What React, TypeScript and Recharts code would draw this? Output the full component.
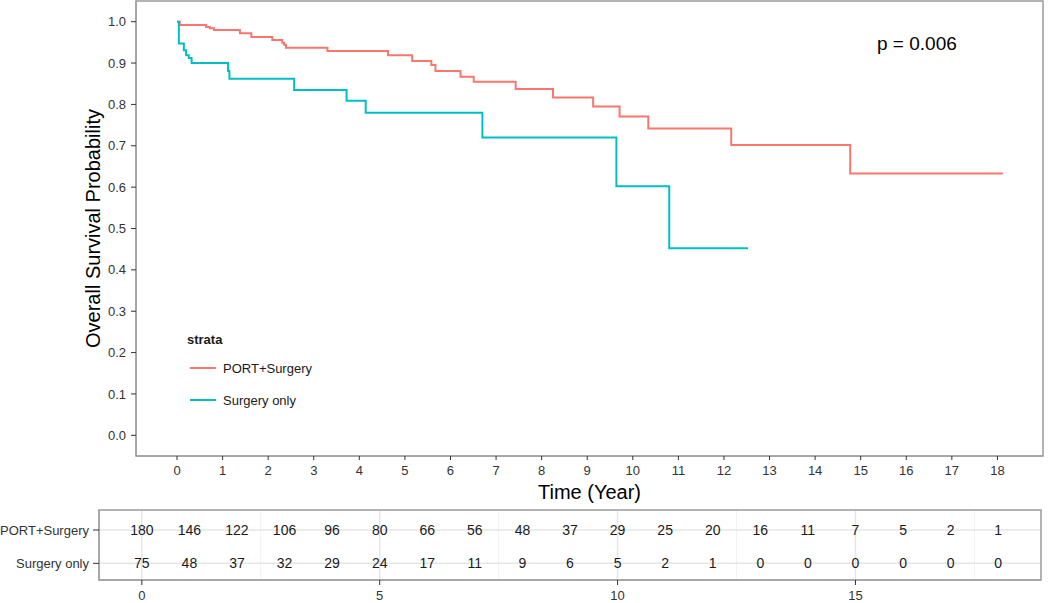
import React from "react";
import {
  LineChart,
  Line,
  XAxis,
  YAxis,
  ReferenceArea,
  ScatterChart,
  Scatter,
  CartesianGrid,
} from "recharts";

// Kaplan-Meier steps
const portTime = [0, 0.06, 0.64, 0.72, 0.81, 1.38, 1.63, 2.09, 2.31, 2.35, 2.39, 3.3, 4.63, 5.16, 5.58, 5.67, 6.22, 6.51, 7.43, 8.25, 9.13, 9.71, 10.34, 12.16, 14.77, 18.12];
const portSurv = [1.0, 0.992, 0.987, 0.984, 0.98, 0.972, 0.963, 0.956, 0.949, 0.944, 0.937, 0.929, 0.919, 0.905, 0.895, 0.881, 0.867, 0.855, 0.837, 0.817, 0.795, 0.771, 0.742, 0.702, 0.633, 0.633];

const surgTime = [0, 0.04, 0.15, 0.2, 0.26, 0.32, 1.12, 1.15, 2.57, 3.72, 4.14, 6.7, 9.64, 10.8, 12.53];
const surgSurv = [1.0, 0.947, 0.931, 0.919, 0.912, 0.9, 0.881, 0.862, 0.835, 0.809, 0.78, 0.72, 0.602, 0.452, 0.452];

// numbers at risk
const riskYears = [0, 1, 2, 3, 4, 5, 6, 7, 8, 9, 10, 11, 12, 13, 14, 15, 16, 17, 18];
const portAtRisk = [180, 146, 122, 106, 96, 80, 66, 56, 48, 37, 29, 25, 20, 16, 11, 7, 5, 2, 1];
const surgAtRisk = [75, 48, 37, 32, 29, 24, 17, 11, 9, 6, 5, 2, 1, 0, 0, 0, 0, 0, 0];

const strata = ["PORT+Surgery", "Surgery only"];
const strataColors = ["#F8766D", "#00BFC4"];

const survTicks = [0, 0.1, 0.2, 0.3, 0.4, 0.5, 0.6, 0.7, 0.8, 0.9, 1.0];
const yearTicks = [0, 1, 2, 3, 4, 5, 6, 7, 8, 9, 10, 11, 12, 13, 14, 15, 16, 17, 18];
const tableTicks = [0, 5, 10, 15];
const pValue = "p = 0.006";

const FONT = '"Liberation Sans", Arial, sans-serif';
const BORDER = "#9a9a9a";
const INK = "#333333";

const portData = portTime.map((t, i) => ({ t, s: portSurv[i] }));
const surgData = surgTime.map((t, i) => ({ t, s: surgSurv[i] }));
const tableData = riskYears.flatMap((t, i) => [
  { t, row: 2, n: portAtRisk[i] },
  { t, row: 1, n: surgAtRisk[i] },
]);

function RiskText(props: any) {
  const { cx, cy, payload } = props;
  return (
    <text x={cx} y={cy} dy="0.36em" textAnchor="middle" fontSize={14} fill="#1a1a1a" fontFamily={FONT}>
      {payload.n}
    </text>
  );
}

function StrataLegend() {
  return (
    <div style={{ position: "absolute", left: 187, top: 331, fontFamily: FONT, color: "#1a1a1a" }}>
      <div style={{ fontWeight: "bold", fontSize: 13, lineHeight: "18px" }}>strata</div>
      {strata.map((name, i) => (
        <div key={name} style={{ display: "flex", alignItems: "center", height: 32, marginTop: i === 0 ? 3 : 0 }}>
          <span style={{ display: "inline-block", width: 26, height: 2, background: strataColors[i], marginLeft: 3, marginRight: 7 }} />
          <span style={{ fontSize: 13 }}>{name}</span>
        </div>
      ))}
    </div>
  );
}

export default function App() {
  return (
    <div style={{ position: "absolute", left: 0, top: 0, width: 1050, height: 603, background: "#fff", fontFamily: FONT }}>
      <div style={{ position: "absolute", left: 0, top: 0 }}>
        <LineChart width={1050} height={510} margin={{ top: 1, right: 7, left: 76, bottom: 24 }}>
          <XAxis
            dataKey="t"
            type="number"
            domain={[-0.9, 19.0]}
            ticks={yearTicks}
            interval={0}
            height={30}
            axisLine={{ stroke: BORDER }}
            tickLine={{ stroke: INK }}
            tickSize={4}
            tickMargin={6}
            tick={{ fill: INK, fontSize: 13, fontFamily: FONT }}
            label={{ value: "Time (Year)", position: "bottom", offset: -1, fill: "#000", fontSize: 20, fontFamily: FONT }}
          />
          <YAxis
            type="number"
            domain={[-0.05, 1.05]}
            ticks={survTicks}
            interval={0}
            width={60}
            allowDataOverflow
            tickFormatter={(v: number) => v.toFixed(1)}
            axisLine={{ stroke: BORDER }}
            tickLine={{ stroke: INK }}
            tickSize={5}
            tickMargin={5}
            tick={{ fill: INK, fontSize: 13, fontFamily: FONT }}
            label={{
              value: "Overall Survival Probability",
              angle: -90,
              position: "insideLeft",
              offset: 17,
              fill: "#000",
              fontSize: 20,
              fontFamily: FONT,
              style: { textAnchor: "middle" },
            }}
          />
          <ReferenceArea x1={-0.9} x2={19.0} y1={-0.05} y2={1.05} fill="none" stroke={BORDER} strokeWidth={1.5} />
          <Line data={portData} dataKey="s" type="stepAfter" stroke={strataColors[0]} strokeWidth={2} dot={false} isAnimationActive={false} />
          <Line data={surgData} dataKey="s" type="stepAfter" stroke={strataColors[1]} strokeWidth={2} dot={false} isAnimationActive={false} />
        </LineChart>
      </div>
      <div style={{ position: "absolute", left: 877, top: 34, fontSize: 19, lineHeight: "20px", color: "#000" }}>{pValue}</div>
      <StrataLegend />
      <div style={{ position: "absolute", left: 0, top: 500 }}>
        <ScatterChart width={1050} height={103} margin={{ top: 10, right: 9, left: 0, bottom: 3 }}>
          <CartesianGrid horizontal={false} verticalValues={[2.5, 7.5, 12.5, 17.5]} stroke="#f2f2f2" />
          <CartesianGrid verticalValues={tableTicks} horizontalValues={[1, 2]} stroke="#e6e6e6" strokeWidth={1.5} />
          <XAxis
            dataKey="t"
            type="number"
            domain={[-0.9, 18.9]}
            ticks={tableTicks}
            interval={0}
            height={20}
            axisLine={{ stroke: BORDER }}
            tickLine={{ stroke: INK }}
            tickSize={5}
            tickMargin={6}
            tick={{ fill: INK, fontSize: 13, fontFamily: FONT }}
          />
          <YAxis
            dataKey="row"
            type="number"
            domain={[0.5, 2.6]}
            ticks={[1, 2]}
            interval={0}
            width={99}
            allowDataOverflow
            tickFormatter={(v: number) => (v === 2 ? strata[0] : strata[1])}
            axisLine={{ stroke: BORDER }}
            tickLine={{ stroke: INK }}
            tickSize={6}
            tickMargin={4}
            tick={{ fill: INK, fontSize: 13, fontFamily: FONT }}
          />
          <ReferenceArea x1={-0.9} x2={18.9} y1={0.5} y2={2.6} fill="none" stroke={BORDER} strokeWidth={1.5} />
          <Scatter data={tableData} shape={RiskText} isAnimationActive={false} />
        </ScatterChart>
      </div>
    </div>
  );
}
